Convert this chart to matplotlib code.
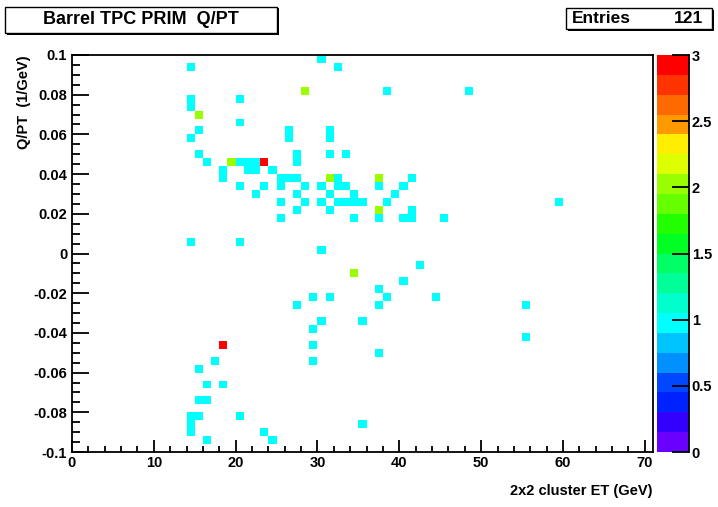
import numpy as np
import matplotlib
matplotlib.use("Agg")
import matplotlib.pyplot as plt
from matplotlib.colors import ListedColormap, BoundaryNorm
from matplotlib.patches import Rectangle
from matplotlib.ticker import MultipleLocator, FixedLocator, FuncFormatter

plt.rcParams['font.family'] = ['Liberation Sans', 'DejaVu Sans']
plt.rcParams['axes.unicode_minus'] = False

# ---- data: (cluster ET, Q/PT, entries) per filled cell ----
et = [30.5, 14.5, 32.5, 28.5, 38.5, 48.5, 14.5, 20.5, 14.5, 15.5, 20.5,
      15.5, 26.5, 31.5, 14.5, 26.5, 31.5,
      15.5, 27.5, 31.5, 33.5,
      16.5, 19.5, 20.5, 21.5, 22.5, 23.5, 27.5,
      18.5, 21.5, 22.5, 24.5,
      18.5, 25.5, 26.5, 27.5, 31.5, 32.5, 37.5, 41.5,
      20.5, 23.5, 25.5, 28.5, 30.5, 32.5, 33.5, 37.5, 40.5,
      22.5, 27.5, 31.5, 34.5, 39.5,
      25.5, 28.5, 30.5, 32.5, 33.5, 34.5, 35.5, 38.5, 59.5,
      27.5, 31.5, 37.5, 41.5,
      25.5, 34.5, 37.5, 40.5, 41.5, 45.5,
      14.5, 20.5, 30.5,
      42.5, 34.5, 40.5, 37.5,
      29.5, 31.5, 38.5, 44.5,
      27.5, 37.5, 55.5,
      30.5, 35.5, 29.5, 55.5,
      18.5, 29.5, 37.5, 17.5, 29.5, 15.5,
      16.5, 18.5, 15.5, 16.5,
      14.5, 15.5, 20.5, 14.5, 35.5, 14.5, 23.5, 16.5, 24.5]
qpt = [0.098, 0.094, 0.094, 0.082, 0.082, 0.082, 0.078, 0.078, 0.074, 0.070, 0.066,
       0.062, 0.062, 0.062, 0.058, 0.058, 0.058,
       0.050, 0.050, 0.050, 0.050,
       0.046, 0.046, 0.046, 0.046, 0.046, 0.046, 0.046,
       0.042, 0.042, 0.042, 0.042,
       0.038, 0.038, 0.038, 0.038, 0.038, 0.038, 0.038, 0.038,
       0.034, 0.034, 0.034, 0.034, 0.034, 0.034, 0.034, 0.034, 0.034,
       0.030, 0.030, 0.030, 0.030, 0.030,
       0.026, 0.026, 0.026, 0.026, 0.026, 0.026, 0.026, 0.026, 0.026,
       0.022, 0.022, 0.022, 0.022,
       0.018, 0.018, 0.018, 0.018, 0.018, 0.018,
       0.006, 0.006, 0.002,
       -0.006, -0.010, -0.014, -0.018,
       -0.022, -0.022, -0.022, -0.022,
       -0.026, -0.026, -0.026,
       -0.034, -0.034, -0.038, -0.042,
       -0.046, -0.046, -0.050, -0.054, -0.054, -0.058,
       -0.066, -0.066, -0.074, -0.074,
       -0.082, -0.082, -0.082, -0.086, -0.086, -0.090, -0.090, -0.094, -0.094]
n = [1, 1, 1, 2, 1, 1, 1, 1, 1, 2, 1,
     1, 1, 1, 1, 1, 1,
     1, 1, 1, 1,
     1, 2, 1, 1, 1, 3, 1,
     1, 1, 1, 1,
     1, 1, 1, 1, 2, 1, 2, 1,
     1, 1, 1, 1, 1, 1, 1, 1, 1,
     1, 1, 1, 1, 1,
     1, 1, 1, 1, 1, 1, 1, 1, 1,
     1, 1, 2, 1,
     1, 1, 1, 1, 1, 1,
     1, 1, 1,
     1, 2, 1, 1,
     1, 1, 1, 1,
     1, 1, 1,
     1, 1, 1, 1,
     3, 1, 1, 1, 1, 1,
     1, 1, 1, 1,
     1, 1, 1, 1, 1, 1, 1, 1, 1]

x_edges = np.arange(0, 72, 1.0)
y_edges = np.linspace(-0.1, 0.1, 51)
cbar_ticks = [0, 0.5, 1, 1.5, 2, 2.5, 3]
cbar_labels = ["0", "0.5", "1", "1.5", "2", "2.5", "3"]
palette = ["#6a00ff", "#3300ff", "#0022ff", "#0048ff", "#0090ff", "#00c4ff",
           "#00ffff", "#00ffcc", "#00ff99", "#00ff66", "#00ff22", "#22ff00",
           "#66ff00", "#99ff00", "#ddff00", "#ffee00", "#ff9900", "#ff6a00",
           "#ff3300", "#ff0000"]

W, H = 718, 507
fig = plt.figure(figsize=(W / 100, H / 100), dpi=100)

def fx(px):
    return px / W

def fy(py):
    return 1 - py / H

def fmt(v, p):
    v = round(v, 6)
    if abs(v) < 1e-9:
        v = 0.0
    return "%g" % v

L, R, T, B = 72, 653, 55, 452
ax = fig.add_axes([fx(L), fy(B), fx(R - L), (B - T) / H])

Hh, _, _ = np.histogram2d(et, qpt, bins=[x_edges, y_edges], weights=n)
Hm = np.ma.masked_where(Hh <= 0, Hh).T
cmap = ListedColormap(palette)
norm = BoundaryNorm(np.linspace(0, 3, 21), cmap.N)
ax.pcolormesh(x_edges, y_edges, Hm, cmap=cmap, norm=norm, shading='flat')

ax.set_xlim(0, 71)
ax.set_ylim(-0.1, 0.1)
ax.xaxis.set_major_locator(MultipleLocator(10))
ax.xaxis.set_minor_locator(MultipleLocator(2))
ax.yaxis.set_major_locator(MultipleLocator(0.02))
ax.yaxis.set_minor_locator(MultipleLocator(0.005))
ax.xaxis.set_major_formatter(FuncFormatter(fmt))
ax.yaxis.set_major_formatter(FuncFormatter(fmt))
ax.tick_params(axis='both', which='both', direction='in', top=False, right=False,
               width=1.3, labelsize=10.5)
ax.tick_params(axis='x', which='major', length=8.6, pad=3)
ax.tick_params(axis='x', which='minor', length=4.3)
ax.tick_params(axis='y', which='major', length=12.2, pad=3.5)
ax.tick_params(axis='y', which='minor', length=6.1)
for lab in ax.get_xticklabels() + ax.get_yticklabels():
    lab.set_fontweight('bold')
for s in ax.spines.values():
    s.set_linewidth(1.3)

# colour scale
cax = fig.add_axes([fx(657), fy(B), fx(689 - 657), (B - T) / H])
lev = np.linspace(0, 3, 21)
cax.pcolormesh([0, 1], lev, np.array([(lev[:-1] + lev[1:]) / 2]).T, cmap=cmap, norm=norm)
cax.set_xlim(0, 1)
cax.set_ylim(0, 3)
cax.set_xticks([])
cax.yaxis.set_major_locator(FixedLocator(cbar_ticks))
cax.set_yticklabels(cbar_labels)
cax.yaxis.tick_right()
cax.tick_params(axis='y', direction='in', length=12, width=1.3, labelsize=10.5, pad=2,
                left=False, right=True)
for lab in cax.get_yticklabels():
    lab.set_fontweight('bold')
for k in ['left', 'top', 'bottom']:
    cax.spines[k].set_visible(False)
cax.spines['right'].set_linewidth(1.3)

# axis titles
fig.text(fx(652), fy(491), "2x2 cluster ET (GeV)", ha='right', va='center',
         fontsize=10.5, fontweight='bold')
fig.text(fx(24), fy(55), "Q/PT  (1/GeV)", ha='center', va='top', rotation=90,
         fontsize=10.5, fontweight='bold')

# title box and stats box
def box(x0, y0, x1, y1):
    fig.add_artist(Rectangle((fx(x0) + 1.5 / W, fy(y1) - 1.5 / H), fx(x1 - x0), (y1 - y0) / H,
                             transform=fig.transFigure, facecolor='black', edgecolor='black', lw=0))
    fig.add_artist(Rectangle((fx(x0), fy(y1)), fx(x1 - x0), (y1 - y0) / H,
                             transform=fig.transFigure, facecolor='white', edgecolor='black', lw=1.0))

box(5, 7, 277, 33)
fig.text(fx(141), fy(20), "Barrel TPC PRIM  Q/PT", ha='center', va='center',
         fontsize=13, fontweight='bold')
box(566, 8, 712, 29)
fig.text(fx(572), fy(18.5), "Entries", ha='left', va='center',
         fontsize=12.5, fontweight='bold')
fig.text(fx(703), fy(18.5), "%d" % int(sum(n)), ha='right', va='center',
         fontsize=12.5, fontweight='bold')

fig.savefig("out.png", dpi=100)
